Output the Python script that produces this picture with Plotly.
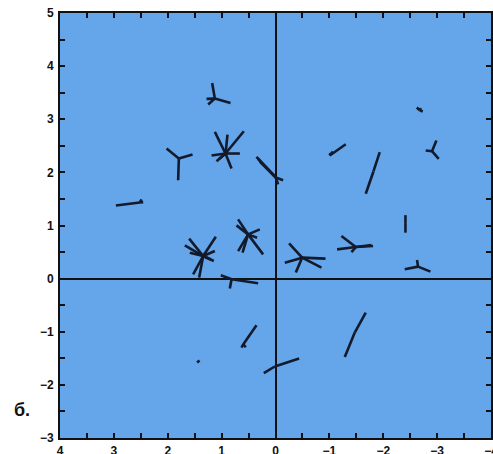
import plotly.graph_objects as go

# star glyph centers (data coords)
star_x = [1.126, 0.928, 1.794, 2.518, -0.006, -1.007, -1.818, -2.677, -2.905, -2.412,
          -2.646, -1.490, -0.494, 0.508, 1.343, 0.816, 0.597, 1.455, 0.013, -1.471]
star_y = [3.389, 2.355, 2.261, 1.434, 1.904, 2.318, 2.017, 3.169, 2.398, 1.030,
          0.226, 0.594, 0.395, 0.833, 0.425, -0.013, -1.235, -1.579, -1.654, -1.015]

# ray end points for each star
arm_x = [
    [1.176, 0.835, 1.250, 1.280],
    [1.126, 0.891, 0.588, 0.662, 0.816, 1.187, 1.095, 1.05],
    [2.022, 1.540, 1.807],
    [2.963, 2.456, 2.486],
    [0.353, 0.291, -0.141, -0.048, 0.32],
    [-1.304, -1.063, -1.02],
    [-1.675, -1.935],
    [-2.622, -2.733, -2.70],
    [-2.987, -2.788, -3.030],
    [-2.412, -2.412],
    [-2.399, -2.876, -2.627],
    [-1.224, -1.143, -1.410, -1.811, -1.78],
    [-0.252, -0.173, -0.377, -0.928, -0.853],
    [0.694, 0.724, 0.291, 0.230, 0.694, 0.612, 0.341],
    [1.603, 1.683, 1.108, 1.126, 1.145, 1.529, 1.417, 1.590, 1.20],
    [1.015, 0.323, 0.848],
    [0.631, 0.353, 0.551],
    [1.410],
    [-0.438, 0.217],
    [-1.286, -1.675],
]
arm_y = [
    [3.684, 3.308, 3.276, 3.383],
    [2.763, 2.712, 2.774, 2.355, 2.074, 2.318, 2.211, 2.25],
    [2.449, 2.336, 1.853],
    [1.378, 1.440, 1.491],
    [2.293, 2.205, 1.853, 1.773, 2.25],
    [2.530, 2.393, 2.36],
    [1.598, 2.380],
    [3.220, 3.145, 3.21],
    [2.600, 2.412, 2.256],
    [1.195, 0.865],
    [0.175, 0.132, 0.350],
    [0.801, 0.551, 0.500, 0.613, 0.63],
    [0.664, 0.301, 0.113, 0.376, 0.207],
    [1.115, 1.002, 0.927, 0.457, 0.519, 0.489, 0.771],
    [0.752, 0.626, 0.789, 0.519, 0.331, 0.081, 0.019, 0.489, 0.36],
    [0.062, -0.088, -0.188],
    [-1.297, -0.878, -1.291],
    [-1.541],
    [-1.504, -1.780],
    [-1.474, -0.639],
]

x_ticks = [4, 3, 2, 1, 0, -1, -2, -3, -4]
y_ticks = [5, 4, 3, 2, 1, 0, -1, -2, -3]
panel_label = "б."

xs, ys = [], []
for cx, cy, ax_, ay_ in zip(star_x, star_y, arm_x, arm_y):
    for ex, ey in zip(ax_, ay_):
        xs += [cx, ex, None]
        ys += [cy, ey, None]

fig = go.Figure()
fig.add_trace(go.Scatter(x=xs, y=ys, mode="lines",
                         line=dict(color="#131a2c", width=2.6),
                         hoverinfo="skip", showlegend=False))

axis_common = dict(
    showgrid=False, zeroline=True, zerolinecolor="#111", zerolinewidth=1.6,
    showline=True, linecolor="#111", linewidth=2, mirror="ticks",
    ticks="inside", ticklen=5, tickwidth=1.5, tickcolor="#111",
    minor=dict(ticks="inside", ticklen=5, dtick=0.5, tickcolor="#111", tickwidth=1.5),
    tickfont=dict(family="Liberation Sans", size=12, color="#111", weight="bold"),
    automargin=False, ticklabeloverflow="allow",
)

fig.update_layout(
    width=493, height=454,
    margin=dict(l=60, r=2, t=13, b=16),
    paper_bgcolor="white", plot_bgcolor="#64a6e9",
    template="none",
    xaxis=dict(range=[4, -4], tickvals=x_ticks, ticklabelstandoff=1, **axis_common),
    yaxis=dict(range=[-3, 5], tickvals=y_ticks, ticklabelstandoff=2, **axis_common),
    annotations=[dict(text=panel_label, xref="paper", yref="paper",
                      x=-0.088, y=0.067, xanchor="center", yanchor="middle",
                      showarrow=False,
                      font=dict(family="Liberation Sans", size=18, color="#111",
                                weight="bold"))],
)

fig.write_html("out.html")
